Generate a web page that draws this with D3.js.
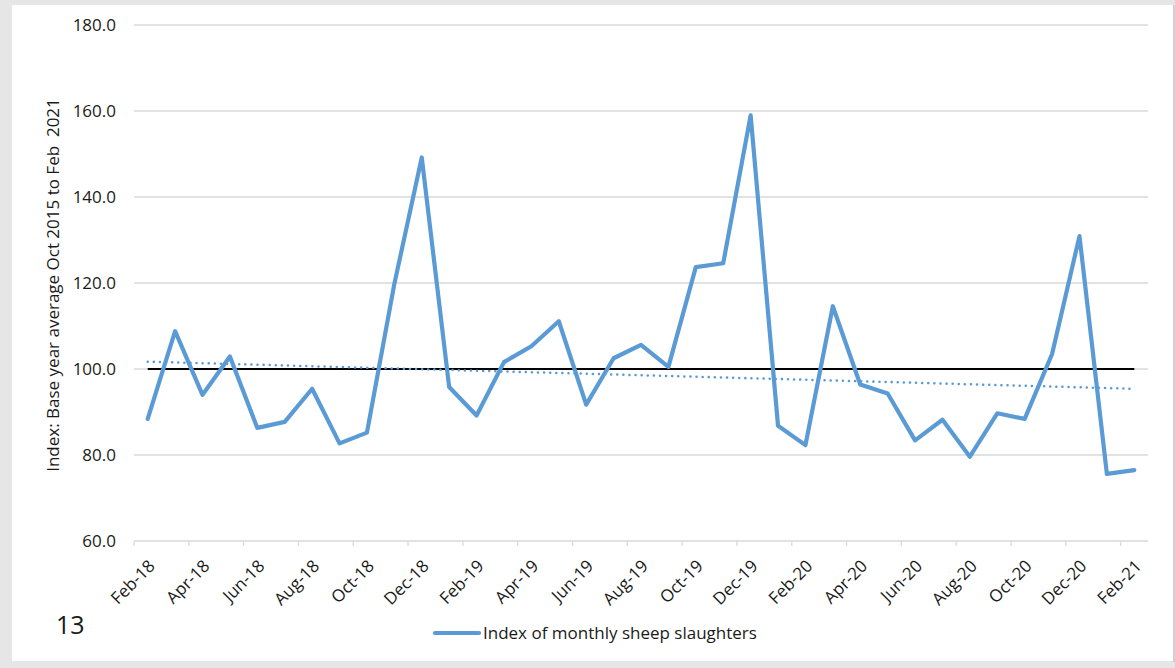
<!DOCTYPE html>
<html>
<head>
<meta charset="utf-8">
<script src="https://cdn.jsdelivr.net/npm/d3@7"></script>
<style>
  html, body { margin: 0; padding: 0; background: #e6e6e6; }
  svg { display: block; }
  text { font-family: "Open Sans", Lato, sans-serif; fill: #1a1a1a; }
</style>
</head>
<body>
<svg id="chart" width="1175" height="668"></svg>
<script>
// Monthly categories, Feb 2018 to Feb 2021
const months = [
  "Feb-18","Mar-18","Apr-18","May-18","Jun-18","Jul-18","Aug-18","Sep-18","Oct-18","Nov-18","Dec-18","Jan-19",
  "Feb-19","Mar-19","Apr-19","May-19","Jun-19","Jul-19","Aug-19","Sep-19","Oct-19","Nov-19","Dec-19","Jan-20",
  "Feb-20","Mar-20","Apr-20","May-20","Jun-20","Jul-20","Aug-20","Sep-20","Oct-20","Nov-20","Dec-20","Jan-21",
  "Feb-21"
];

// Index of monthly sheep slaughters
const slaughterIndex = [
  88.4, 108.8, 94.0, 102.9, 86.3, 87.7, 95.4, 82.7, 85.2, 119.8, 149.2, 95.8,
  89.2, 101.6, 105.3, 111.1, 91.7, 102.5, 105.6, 100.5, 123.7, 124.6, 159.0, 86.8,
  82.3, 114.6, 96.4, 94.3, 83.4, 88.2, 79.6, 89.7, 88.4, 103.5, 130.9, 75.6,
  76.5
];

// Base level (index = 100) and linear trend end values
const baseLevel = [100, 100];
const trendValues = [101.7, 95.4];

// Axis ticks
const yTicks = [60, 80, 100, 120, 140, 160, 180];
const xTickLabels = months.filter((m, i) => i % 2 === 0);

const yTitle = "Index: Base year average Oct 2015 to Feb\u00a0 2021";
const legendLabel = "Index of monthly sheep slaughters";
const pageNumber = "13";

const FONT = 17;
const svg = d3.select("#chart");

// Page panel
svg.append("rect").attr("x", 0).attr("y", 0).attr("width", 1175).attr("height", 668).attr("fill", "#e6e6e6");
svg.append("rect").attr("x", 1172).attr("y", 5).attr("width", 3).attr("height", 657).attr("fill", "#d2d2d2");
svg.append("rect").attr("x", 12).attr("y", 5).attr("width", 1161).attr("height", 656).attr("fill", "#ffffff");

const plot = { left: 134, right: 1148, top: 25, bottom: 541 };

const x = d3.scaleBand().domain(months).range([plot.left, plot.right]).paddingInner(0).paddingOuter(0);
const cx = m => x(m) + x.bandwidth() / 2;
const y = d3.scaleLinear().domain([60, 180]).range([plot.bottom, plot.top]);

// Horizontal gridlines
svg.append("g").selectAll("line").data(yTicks.slice(1)).join("line")
  .attr("x1", plot.left).attr("x2", plot.right)
  .attr("y1", d => y(d)).attr("y2", d => y(d))
  .attr("stroke", "#d9d9d9").attr("stroke-width", 1.3);

// Y axis labels
const yAxis = d3.axisLeft(y).tickValues(yTicks).tickFormat(d3.format(".1f")).tickSize(0).tickPadding(18);
const gy = svg.append("g").attr("transform", `translate(${plot.left},0)`).call(yAxis);
gy.select(".domain").remove();
gy.selectAll("text").attr("font-size", FONT).attr("fill", "#1a1a1a").style("font-family", "'Open Sans', sans-serif");

// X axis line and tick marks at every second category boundary
const xAxis = d3.axisBottom(x).tickValues(xTickLabels).tickSize(5).tickFormat("");
const gx = svg.append("g").attr("transform", `translate(0,${plot.bottom})`).call(xAxis);
gx.select(".domain").attr("stroke", "#d9d9d9").attr("stroke-width", 1.3)
  .attr("d", `M${plot.left},0H${plot.right}`);
gx.selectAll(".tick").attr("transform", d => `translate(${x(d)},0)`);
gx.selectAll(".tick line").attr("stroke", "#d9d9d9").attr("stroke-width", 1.3);

// Rotated category labels
svg.append("g").selectAll("text").data(xTickLabels).join("text")
  .attr("transform", d => `translate(${cx(d) + 4},${plot.bottom + 22}) rotate(-45)`)
  .attr("text-anchor", "end")
  .attr("dy", "0.35em")
  .attr("font-size", FONT)
  .text(d => d);

// Y axis title
svg.append("text")
  .attr("transform", `translate(59,${(plot.top + plot.bottom) / 2 + 2}) rotate(-90)`)
  .attr("text-anchor", "middle")
  .attr("font-size", FONT)
  .text(yTitle);

// Base level line at 100
const ends = [months[0], months[months.length - 1]];
svg.append("path")
  .datum(baseLevel)
  .attr("fill", "none").attr("stroke", "#000000").attr("stroke-width", 2)
  .attr("d", d3.line().x((d, i) => cx(ends[i])).y(d => y(d)));

// Linear trend (dotted)
svg.append("path")
  .datum(trendValues)
  .attr("fill", "none").attr("stroke", "#5b9bd5").attr("stroke-width", 2.5)
  .attr("stroke-linecap", "round").attr("stroke-dasharray", "0.1 6")
  .attr("d", d3.line().x((d, i) => cx(ends[i])).y(d => y(d)));

// Main series
svg.append("path")
  .datum(slaughterIndex)
  .attr("fill", "none").attr("stroke", "#5b9bd5").attr("stroke-width", 4.2)
  .attr("stroke-linejoin", "round").attr("stroke-linecap", "round")
  .attr("d", d3.line().x((d, i) => cx(months[i])).y(d => y(d)));

// Legend
const lg = svg.append("g");
lg.append("line").attr("x1", 435).attr("x2", 479).attr("y1", 633).attr("y2", 633)
  .attr("stroke", "#5b9bd5").attr("stroke-width", 4.2).attr("stroke-linecap", "round");
lg.append("text").attr("x", 483).attr("y", 639).attr("font-size", FONT).text(legendLabel);

// Page number
svg.append("text").attr("x", 56).attr("y", 634).attr("font-size", 25).attr("fill", "#000").text(pageNumber);
</script>
</body>
</html>
